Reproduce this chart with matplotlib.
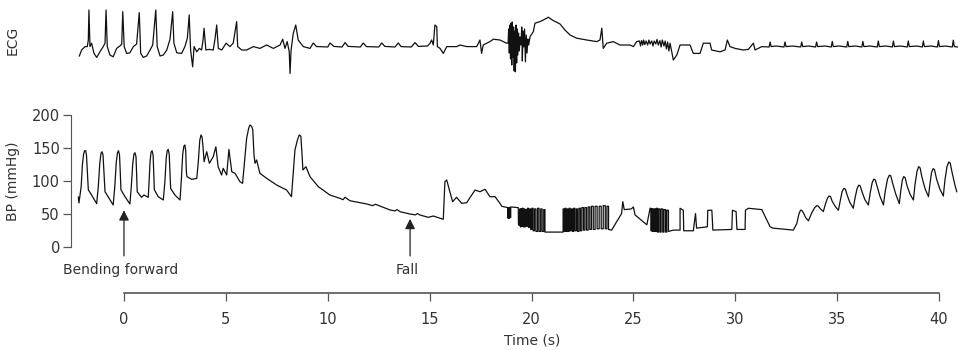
import matplotlib
matplotlib.use("Agg")
import matplotlib.pyplot as plt

plt.rcParams['font.family'] = ['DejaVu Sans']

# ---------------- data ----------------
bp_pts = [
    (-2.24, 76), (-2.21, 67), (-2.10, 92), (-2.04, 125), (-1.98, 141), (-1.93, 146), (-1.88, 146), (-1.84, 139),
    (-1.79, 110), (-1.75, 87), (-1.59, 79), (-1.34, 66),
    (-1.26, 92), (-1.19, 126), (-1.13, 142), (-1.08, 144.5), (-1.03, 140), (-0.98, 112), (-0.93, 84), (-0.77, 76), (-0.53, 64),
    (-0.45, 92), (-0.38, 128), (-0.32, 143), (-0.27, 146), (-0.22, 140), (-0.18, 112), (-0.15, 87), (0.05, 76.5), (0.29, 65.5),
    (0.36, 92), (0.43, 126), (0.49, 141), (0.54, 143), (0.59, 137), (0.62, 110), (0.65, 84), (0.86, 75.6), (0.98, 79), (1.19, 75.6),
    (1.23, 98), (1.28, 130), (1.33, 144), (1.38, 146), (1.43, 139), (1.46, 112), (1.49, 87), (1.68, 76.5), (1.93, 71.5),
    (2.01, 100), (2.07, 134), (2.12, 146), (2.17, 148), (2.22, 141), (2.26, 112), (2.29, 89), (2.50, 79), (2.75, 71.5),
    (2.82, 105), (2.88, 140), (2.94, 153), (2.99, 154.7), (3.03, 146), (3.06, 115), (3.09, 106.8), (3.32, 102.8), (3.57, 104),
    (3.65, 130), (3.72, 162), (3.78, 169.8), (3.83, 167), (3.88, 152), (3.93, 129.4), (4.06, 144.5), (4.19, 127),
    (4.38, 137), (4.51, 152), (4.62, 121.8), (4.79, 109.3), (4.87, 119.4), (5.04, 109.3), (5.15, 148), (5.29, 114.3),
    (5.45, 111.8), (5.69, 99.2), (5.82, 96.7),
    (5.92, 130), (6.02, 165), (6.12, 180), (6.18, 184.9), (6.26, 183), (6.32, 178), (6.38, 140), (6.43, 127), (6.51, 132),
    (6.67, 111.9), (7.00, 104.3), (7.49, 94.2), (7.98, 86.6), (8.22, 76.5),
    (8.31, 115), (8.39, 147), (8.51, 162), (8.60, 169.8), (8.68, 168), (8.74, 140), (8.78, 116.9), (8.93, 121.8),
    (9.13, 106.7), (9.54, 91.6), (10.11, 79), (10.60, 74), (10.75, 72), (10.85, 75.6), (11.09, 70.4), (11.5, 68),
    (11.91, 65.5), (12.2, 63), (12.35, 65), (12.56, 62.4), (13.06, 56.4), (13.3, 55), (13.4, 57), (13.55, 53.8),
    (14.04, 50.3), (14.3, 49), (14.4, 51), (14.53, 48.8), (14.93, 45.3), (15.18, 47.3), (15.67, 42.3),
    (15.72, 80), (15.75, 99.2), (15.84, 101.7), (15.97, 86.6), (16.13, 68.9), (16.32, 75.6), (16.57, 66.5),
    (16.82, 67.4), (17.01, 76.5), (17.23, 86.6), (17.47, 84), (17.72, 87.7), (17.96, 76.5), (18.21, 76.5),
    (18.45, 66.5), (18.54, 62),
    (18.84, 60), (18.84, 44), (18.86, 44), (18.86, 60), (18.90, 60), (18.90, 44), (18.92, 44), (18.92, 60),
    (18.96, 60), (18.96, 45), (18.98, 45), (18.98, 61), (19.35, 60), (19.36, 34), (19.42, 33), (19.42, 58),
    (19.45, 58), (19.45, 31), (19.48, 31), (19.48, 58), (19.52, 58), (19.52, 32), (19.55, 32), (19.55, 59),
    (19.59, 59), (19.59, 31), (19.63, 31), (19.63, 58), (19.67, 58), (19.67, 31), (19.71, 31), (19.71, 57),
    (19.76, 57), (19.76, 32), (19.80, 32), (19.80, 59), (19.85, 59), (19.85, 30), (19.90, 30), (19.90, 58),
    (19.96, 58), (19.96, 27), (20.02, 27), (20.02, 59), (20.08, 59), (20.08, 25), (20.15, 25), (20.15, 58),
    (20.22, 58), (20.22, 24), (20.30, 24), (20.30, 59), (20.37, 59), (20.37, 24), (20.45, 24), (20.45, 58),
    (20.52, 58), (20.52, 24), (20.60, 24), (20.60, 57), (20.66, 57), (20.66, 23), (21.55, 23), (21.55, 58),
    (21.59, 58), (21.59, 24), (21.64, 24), (21.64, 59), (21.68, 59), (21.68, 24), (21.73, 24), (21.73, 58),
    (21.78, 58), (21.78, 24), (21.84, 24), (21.84, 59), (21.89, 59), (21.89, 25), (21.95, 25), (21.95, 58),
    (22.01, 58), (22.01, 24), (22.07, 24), (22.07, 59), (22.13, 59), (22.13, 25), (22.20, 25), (22.20, 58),
    (22.26, 58), (22.26, 24), (22.33, 24), (22.33, 59), (22.40, 59), (22.40, 25), (22.47, 25), (22.47, 60),
    (22.55, 60), (22.55, 26), (22.62, 26), (22.62, 60), (22.70, 60), (22.70, 26), (22.78, 26), (22.78, 61),
    (22.86, 61), (22.86, 27), (22.94, 27), (22.94, 62), (23.03, 62), (23.03, 27), (23.12, 27), (23.12, 62),
    (23.22, 62), (23.22, 28), (23.32, 28), (23.32, 62), (23.42, 62), (23.42, 28), (23.52, 28), (23.52, 63),
    (23.62, 63), (23.62, 28), (23.70, 28), (23.70, 62), (23.78, 62), (23.78, 27), (23.93, 26), (24.42, 51),
    (24.48, 69), (24.55, 57), (24.9, 58), (25.00, 61), (25.08, 49), (25.66, 34), (25.82, 59),
    (25.86, 59), (25.86, 25), (25.89, 25), (25.89, 58), (25.93, 58), (25.93, 24), (25.96, 24), (25.96, 58),
    (26.00, 58), (26.00, 24), (26.04, 24), (26.04, 58), (26.09, 58), (26.09, 24), (26.13, 24), (26.13, 59),
    (26.18, 59), (26.18, 23), (26.23, 23), (26.23, 58), (26.30, 58), (26.30, 23), (26.36, 23), (26.36, 58),
    (26.44, 58), (26.44, 23), (26.50, 23), (26.50, 57), (26.58, 57), (26.58, 23), (26.64, 23), (26.64, 56),
    (26.72, 56), (26.72, 24), (26.96, 26), (27.29, 26), (27.29, 59), (27.45, 56), (27.47, 25), (27.94, 25),
    (28.05, 51), (28.10, 29), (28.63, 31), (28.65, 56), (28.85, 56), (28.90, 26), (29.83, 27), (29.86, 56),
    (30.04, 54), (30.08, 27), (30.48, 27), (30.50, 56), (30.64, 59), (31.30, 57), (31.62, 37), (31.71, 31),
    (31.84, 29), (32.85, 26),
    (33.02, 36), (33.12, 50), (33.20, 56), (33.26, 56), (33.35, 52), (33.45, 45), (33.59, 40),
    (33.75, 52), (33.90, 60), (34.00, 63), (34.08, 62), (34.18, 58), (34.32, 54),
    (34.42, 65), (34.52, 74), (34.60, 77.5), (34.67, 77), (34.75, 70), (34.90, 62), (35.06, 56),
    (35.15, 70), (35.24, 84), (35.32, 89), (35.40, 88), (35.50, 78), (35.62, 68), (35.79, 59),
    (35.88, 75), (35.98, 89), (36.06, 94), (36.13, 93), (36.22, 84), (36.36, 72), (36.53, 64),
    (36.62, 82), (36.72, 98), (36.80, 103), (36.87, 102), (36.96, 92), (37.10, 77), (37.27, 64),
    (37.36, 85), (37.47, 103), (37.56, 109), (37.63, 108), (37.72, 97), (37.88, 80), (38.05, 66),
    (38.12, 85), (38.20, 102), (38.27, 107), (38.34, 105), (38.43, 93), (38.58, 80), (38.74, 71.5),
    (38.82, 95), (38.92, 115), (39.00, 122), (39.07, 120), (39.16, 106), (39.32, 88), (39.48, 76.5),
    (39.55, 95), (39.63, 113), (39.71, 119), (39.78, 117), (39.88, 103), (40.04, 88), (40.21, 77.5),
    (40.29, 102), (40.39, 122), (40.48, 129), (40.55, 127), (40.64, 113), (40.78, 94), (40.87, 84),
]
bp_t = [p[0] for p in bp_pts]
bp_v = [p[1] for p in bp_pts]

ecg_t = [-2.19, -2.08, -1.91, -1.80, -1.75, -1.72, -1.67, -1.59, -1.47, -1.34, -1.18, -1.02, -0.93, -0.88,
         -0.82, -0.69, -0.53, -0.36, -0.20, -0.11, -0.06, 0.01, 0.13, 0.29, 0.46, 0.62, 0.75, 0.82, 0.95,
         1.11, 1.28, 1.41, 1.56, 1.63, 1.77, 1.93, 2.10, 2.26, 2.39, 2.45, 2.59, 2.83, 2.99, 3.11, 3.20,
         3.27, 3.37, 3.44, 3.57, 3.70, 3.81, 3.88, 3.93, 4.02, 4.19, 4.38, 4.46, 4.55, 4.63, 4.80, 5.01,
         5.20, 5.36, 5.53, 5.58, 5.78, 6.02, 6.35, 6.67, 7.00, 7.33, 7.66, 7.79, 7.90, 8.01, 8.11, 8.15,
         8.20, 8.31, 8.43, 8.55, 8.80, 9.13, 9.29, 9.45, 9.59, 10.0, 10.11, 10.3, 10.7, 10.85, 11.0, 11.6,
         11.74, 11.9, 12.5, 12.65, 12.8, 13.3, 13.46, 13.6, 14.1, 14.28, 14.45, 14.9,
         15.02, 15.10, 15.18, 15.26, 15.35, 15.38, 15.51, 15.67, 15.84, 16.33, 16.49, 16.82, 17.31, 17.47,
         17.55, 17.63, 17.96, 18.13, 18.45, 18.62, 18.78,
         18.85, 18.88, 18.91, 18.94, 18.97, 19.00, 19.03, 19.06, 19.09, 19.12, 19.15, 19.18, 19.21, 19.24,
         19.27, 19.30, 19.33, 19.37, 19.40, 19.44, 19.48, 19.52, 19.55, 19.58, 19.62, 19.66, 19.70, 19.74,
         19.78, 19.82, 19.86, 19.93,
         20.09, 20.17, 20.42, 20.75, 20.82, 21.07, 21.40, 21.64, 21.89, 22.22, 22.71, 23.20, 23.36, 23.45,
         23.52, 23.69, 24.01, 24.34, 24.83, 25.00, 25.16,
         25.3, 25.35, 25.4, 25.46, 25.5, 25.56, 25.62, 25.7, 25.76, 25.82, 25.9, 25.96, 26.02, 26.1, 26.16,
         26.22, 26.3, 26.36, 26.42, 26.5, 26.56, 26.62, 26.68, 26.74, 26.80,
         26.96, 27.13, 27.29, 27.78, 27.94, 28.27, 28.43, 28.76, 28.84, 29.25, 29.50, 29.61, 29.74, 29.99,
         30.39, 30.64, 30.89, 30.97, 31.30,
         31.66, 31.71, 31.76, 32.0, 32.39, 32.44, 32.49, 32.8, 33.21, 33.26, 33.31, 33.6, 33.94, 33.99, 34.04,
         34.4, 34.71, 34.76, 34.81, 35.1, 35.47, 35.52, 35.57, 35.9, 36.21, 36.26, 36.31, 36.6, 36.97, 37.02,
         37.07, 37.4, 37.71, 37.76, 37.81, 38.1, 38.44, 38.49, 38.54, 38.9, 39.18, 39.23, 39.28, 39.6, 39.92,
         39.97, 40.02, 40.3, 40.65, 40.70, 40.75, 40.93]
ecg_v = [-0.45, -0.15, 0.02, 0.02, 0.35, 1.85, 0.02, 0.19, -0.32, -0.52, -0.24, 0.02, 0.19, 1.85,
         0.02, -0.40, -0.49, -0.07, 0.05, 0.15, 1.77, 0.02, -0.32, -0.29, 0.02, 0.15, 1.72, -0.32, -0.52,
         -0.45, -0.15, 0.10, 1.85, 0.02, -0.45, -0.40, -0.15, 0.39, 1.77, 0.19, -0.29, -0.32, 0.02, 0.44, 1.60,
         -0.15, -0.99, 0.02, -0.24, -0.07, -0.15, 0.35, 0.94, -0.15, -0.12, -0.15, 0.35, 1.10, -0.07, -0.15, 0.19,
         0.02, 0.19, 1.27, 0.02, -0.15, -0.15, 0.02, -0.07, 0.10, -0.07, 0.10, 0.39, -0.07, 0.27, -0.24, -1.32,
         -0.15, 0.69, 1.10, 0.35, 0.02, -0.07, 0.20, 0.02, 0.02, 0.0, 0.20, 0.03, 0.0, 0.22, 0.03, 0.0,
         0.20, 0.02, 0.0, 0.20, 0.03, 0.0, 0.20, 0.02, 0.0, 0.22, 0.03, 0.05,
         0.19, 0.35, 0.10, 1.10, 1.02, 0.02, -0.07, -0.32, 0.02, 0.02, 0.10, 0.02, 0.02, 0.35,
         -0.32, 0.10, 0.27, 0.39, 0.35, 0.27, 0.19,
         0.2, 0.9, -0.3, 1.1, -0.6, 1.2, -0.9, 1.25, -0.5, 1.0, -1.2, 0.8, -1.24, 1.1,
         -0.8, 0.9, -0.4, 0.7, -0.2, 0.5, 0.1, 1.0, -0.7, 0.8, 0.0, 0.9, -0.74, 0.6,
         -0.3, 0.4, 0.1, 0.52,
         0.77, 1.19, 1.27, 1.44, 1.49, 1.32, 1.15, 0.85, 0.60, 0.44, 0.35, 0.27, 0.35, 0.94,
         -0.07, 0.19, 0.27, 0.10, 0.10, 0.02, 0.27,
         0.30, 0.05, 0.32, 0.10, 0.35, 0.12, 0.30, 0.10, 0.35, 0.15, 0.30, 0.05, 0.30, 0.15, 0.38,
         0.10, 0.32, 0.00, 0.35, 0.05, 0.30, -0.10, 0.25, -0.20, 0.19,
         -0.65, -0.40, 0.10, 0.10, -0.32, -0.32, 0.19, 0.19, -0.15, -0.24, -0.15, 0.35, 0.02, -0.07,
         -0.15, -0.12, 0.19, -0.15, 0.02,
         0.0, 0.25, 0.02, 0.05, 0.0, 0.25, 0.02, 0.05, 0.0, 0.25, 0.02, 0.05, 0.0, 0.25, 0.02,
         0.05, 0.0, 0.28, 0.02, 0.05, 0.0, 0.28, 0.02, 0.05, 0.0, 0.28, 0.02, 0.05, 0.0, 0.30,
         0.02, 0.05, 0.0, 0.30, 0.02, 0.05, 0.0, 0.30, 0.02, 0.05, 0.0, 0.30, 0.02, 0.05, 0.0,
         0.32, 0.02, 0.05, 0.0, 0.34, 0.02, 0.0]

x_ticks = [0, 5, 10, 15, 20, 25, 30, 35, 40]
bp_ticks = [0, 50, 100, 150, 200]
events = ["Bending forward", "Fall"]
event_t = [0.0, 14.04]
event_tip = [56, 43]

# ---------------- layout ----------------
W, H = 958, 350
fig = plt.figure(figsize=(W / 100, H / 100), dpi=100)
txt = '#333333'
axc = '#555555'
XL = (-2.60, 40.93)

def fx(px):
    return px / W

def fy(py):
    return 1 - py / H

# ECG
ax_e = fig.add_axes([fx(71), fy(75), fx(958) - fx(71), 75 / H])
ax_e.plot(ecg_t, ecg_v, color='#111111', lw=0.9)
ax_e.set_xlim(*XL)
ax_e.set_ylim(-1.4, 2.35)
ax_e.axis('off')
fig.text(fx(13), fy(40), 'ECG', rotation=90, ha='center', va='center', fontsize=10, color=txt)

# BP
ax_b = fig.add_axes([fx(71), fy(247.3), fx(958) - fx(71), (247.3 - 115) / H])
ax_b.plot(bp_t, bp_v, color='#111111', lw=0.9, clip_on=False)
ax_b.set_xlim(*XL)
ax_b.set_ylim(0, 200)
for s in ['top', 'right', 'bottom']:
    ax_b.spines[s].set_visible(False)
ax_b.spines['left'].set_bounds(0, 200)
ax_b.spines['left'].set_color(axc)
ax_b.set_yticks(bp_ticks)
ax_b.set_xticks([])
ax_b.tick_params(axis='y', length=6, width=0.9, color=axc, labelsize=10.5, labelcolor=txt, pad=2)
fig.text(fx(13), fy(181), 'BP (mmHg)', rotation=90, ha='center', va='center', fontsize=10, color=txt)

for name, t0, tip in zip(events, event_t, event_tip):
    ax_b.annotate('', xy=(t0, tip), xytext=(t0, -13),
                  arrowprops=dict(arrowstyle='-|>,head_length=0.6,head_width=0.3',
                                  color='#222222', lw=0.9, shrinkA=0, shrinkB=0),
                  annotation_clip=False)
    ax_b.text(t0 - 0.15, -34, name, ha='center', va='center', fontsize=10, color=txt, clip_on=False)

# Time axis
ax_t = fig.add_axes([fx(71), fy(293), fx(958) - fx(71), 0.01])
ax_t.set_xlim(*XL)
ax_t.patch.set_visible(False)
for s in ['top', 'right', 'left']:
    ax_t.spines[s].set_visible(False)
ax_t.spines['bottom'].set_bounds(0, 40)
ax_t.spines['bottom'].set_color(axc)
ax_t.spines['bottom'].set_linewidth(1.2)
ax_t.set_yticks([])
ax_t.set_xticks(x_ticks)
ax_t.tick_params(axis='x', length=5.5, width=0.9, color=axc, labelsize=10.5, labelcolor=txt, pad=8)
fig.text(fx(532), fy(341), 'Time (s)', ha='center', va='center', fontsize=10, color=txt)

fig.savefig('out.png', dpi=100)
